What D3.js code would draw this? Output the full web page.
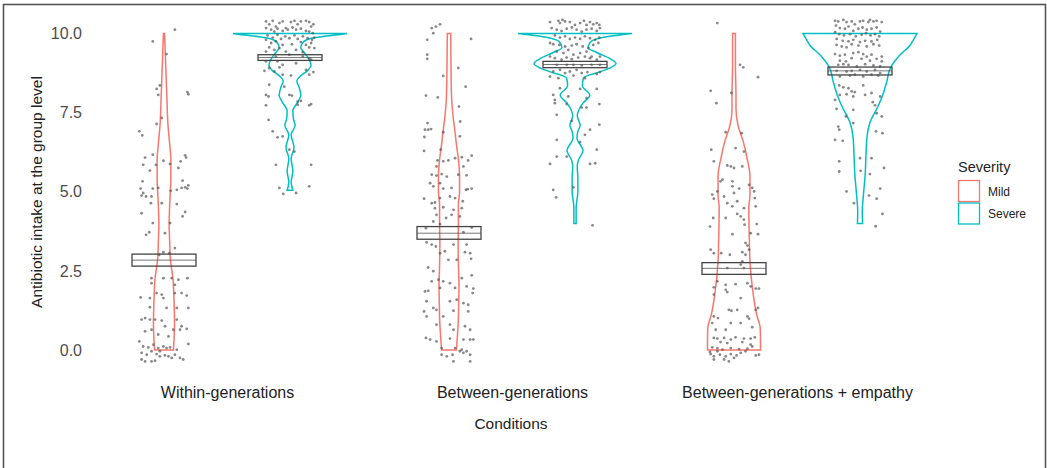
<!DOCTYPE html>
<html>
<head>
<meta charset="utf-8">
<script src="https://cdn.jsdelivr.net/npm/d3@7"></script>
<style>
  body { margin: 0; background: #fff; }
  text { font-family: "Liberation Sans", Arial, sans-serif; }
</style>
</head>
<body>
<svg id="chart" width="1047" height="468"></svg>
<script>
// categories
const conditions = ["Within-generations", "Between-generations", "Between-generations + empathy"];
const severities = ["Mild", "Severe"];
const yTicks = [0, 2.5, 5, 7.5, 10];

// crossbar (mean and interval) per condition x severity: WM, WS, BM, BS, EM, ES
const boxLow  = [2.65, 9.15, 3.50, 8.92, 2.39, 8.69];
const boxMid  = [2.84, 9.24, 3.69, 9.02, 2.58, 8.82];
const boxHigh = [3.03, 9.33, 3.90, 9.12, 2.76, 8.94];

// violin profiles: [value, relative density width]
const violinWM = [[0,0.165],[0.3,0.175],[0.8,0.185],[1.6,0.175],[2.2,0.16],[2.9,0.11],[3.4,0.10],[4.0,0.09],[4.8,0.105],[5.4,0.12],[6.0,0.12],[6.5,0.10],[7.1,0.07],[8.0,0.05],[9.0,0.03],[10,0.01]];
const violinWS = [[5.05,0.05],[5.3,0.02],[5.65,0.05],[6.05,0.02],[6.4,0.07],[6.8,0.02],[7.1,0.09],[7.3,0.06],[7.55,0.05],[7.85,0.14],[8.05,0.19],[8.3,0.16],[8.5,0.12],[8.65,0.18],[8.85,0.32],[9.0,0.37],[9.2,0.33],[9.4,0.25],[9.55,0.19],[9.7,0.22],[9.78,0.27],[9.85,0.38],[9.9,0.55],[9.95,0.80],[10,1.0]];
const violinBM = [[0,0.13],[0.5,0.15],[1.0,0.165],[1.5,0.17],[2.0,0.175],[2.7,0.165],[3.4,0.16],[4.0,0.165],[4.6,0.165],[5.0,0.185],[5.5,0.185],[6.1,0.16],[6.5,0.13],[6.9,0.105],[7.4,0.07],[8.0,0.045],[9.0,0.035],[10,0.03]];
const violinBS = [[4.0,0.02],[4.5,0.02],[5.0,0.05],[5.4,0.05],[5.8,0.04],[6.0,0.06],[6.3,0.14],[6.7,0.035],[6.9,0.05],[7.1,0.09],[7.4,0.04],[7.5,0.05],[7.8,0.14],[8.05,0.26],[8.35,0.13],[8.6,0.15],[8.78,0.42],[8.9,0.6],[9.05,0.72],[9.2,0.62],[9.4,0.38],[9.55,0.23],[9.7,0.26],[9.8,0.33],[9.88,0.5],[9.95,0.78],[10,1.0]];
const violinEM = [[0,0.465],[0.25,0.465],[0.7,0.46],[1.1,0.40],[1.85,0.33],[2.8,0.28],[3.4,0.27],[4.5,0.26],[4.9,0.28],[5.5,0.28],[6.05,0.23],[6.6,0.16],[7.1,0.07],[7.6,0.035],[8.0,0.035],[9.0,0.025],[10,0.025]];
const violinES = [[4.0,0.045],[4.37,0.04],[4.9,0.06],[5.53,0.09],[6.16,0.105],[6.68,0.12],[7.21,0.18],[7.64,0.30],[8.06,0.40],[8.48,0.47],[8.9,0.53],[9.32,0.70],[9.63,0.88],[9.75,0.92],[9.9,0.97],[10,1.0]];

// jittered observations: [horizontal jitter, value]
const ptsWM = [[0.34,10.12],[-0.35,9.75],[0.08,9.35],[-0.23,8.25],[-0.13,8.36],[-0.18,8.06],[0.73,8.15],[0.76,8.08],[-0.07,7.33],[-0.23,7.14],[-0.77,6.91],[-0.68,6.78],[-0.59,6.08],[-0.35,6.17],[0.66,6.15],[0.69,6.08],[-0.65,5.85],[-0.44,5.67],[-0.25,5.85],[-0.02,5.98],[0.19,5.88],[0.52,5.96],[0.45,5.75],[-0.67,5.33],[0.58,5.35],[-0.73,5.1],[-0.65,4.96],[-0.70,4.88],[-0.56,4.85],[-0.39,4.85],[-0.35,5.1],[-0.18,5.12],[0.21,5.03],[0.40,5.06],[0.55,5.12],[0.66,5.14],[0.76,5.2],[0.73,5.1],[-0.41,4.64],[-0.07,4.64],[0.40,4.61],[-0.70,4.32],[0.58,4.22],[0.66,4.36],[-0.35,4.01],[0.19,4.01],[-0.56,3.64],[-0.46,3.72],[0.03,3.69],[0.34,3.22],[-0.02,3.09],[0.17,3.06],[-0.15,3.01],[-0.39,2.27],[-0.02,2.27],[0.24,2.27],[0.45,2.22],[-0.39,2.11],[0.34,2.06],[0.73,2.27],[-0.23,1.8],[-0.07,1.75],[-0.02,1.64],[0.34,1.8],[0.55,1.8],[0.71,1.72],[-0.73,1.66],[-0.44,1.64],[0.08,1.33],[0.40,1.33],[0.76,1.33],[-0.44,1.35],[-0.59,1.01],[-0.70,0.96],[-0.44,0.96],[-0.28,0.96],[-0.07,0.93],[0.03,0.75],[0.40,0.96],[0.55,0.75],[0.50,0.64],[0.71,0.67],[-0.59,0.59],[-0.39,0.64],[0.29,0.64],[-0.18,0.49],[0.14,0.43],[0.76,0.19],[-0.77,0.27],[-0.65,0.11],[-0.49,0.08],[-0.33,0.17],[-0.18,0.06],[-0.02,0.11],[0.08,0.06],[0.19,0.08],[0.40,0.01],[-0.70,-0.09],[-0.54,-0.15],[-0.39,-0.04],[-0.23,-0.13],[-0.13,-0.2],[0.03,-0.17],[0.14,-0.2],[0.34,-0.15],[0.50,-0.25],[0.60,-0.3],[-0.70,-0.3],[-0.59,-0.36],[-0.39,-0.36],[-0.28,-0.34],[-0.13,-0.04],[0.24,-0.25]];
const ptsWS = [[-0.75,10.38],[-0.65,10.29],[-0.54,10.4],[-0.44,10.22],[-0.33,10.33],[-0.23,10.38],[-0.13,10.17],[0.03,10.36],[0.14,10.4],[0.24,10.29],[0.34,10.38],[0.50,10.4],[0.60,10.36],[0.66,10.22],[0.73,10.29],[-0.75,10.17],[-0.59,10.12],[-0.49,10.06],[-0.39,10.15],[-0.23,10.08],[-0.07,10.12],[0.08,10.19],[0.19,10.12],[0.34,10.15],[0.50,10.08],[0.60,10.06],[0.71,10.01],[-0.70,9.94],[-0.54,9.87],[-0.39,9.96],[-0.28,9.83],[-0.15,9.91],[-0.02,9.85],[0.14,9.94],[0.24,9.83],[0.40,9.91],[0.55,9.85],[0.69,9.8],[0.76,9.87],[-0.75,9.8],[-0.59,9.7],[-0.44,9.75],[-0.23,9.64],[0.06,9.66],[0.34,9.73],[0.50,9.64],[0.66,9.7],[-0.65,9.56],[-0.49,9.48],[-0.33,9.54],[-0.13,9.43],[0.19,9.48],[0.40,9.41],[0.60,9.56],[0.76,9.54],[-0.75,9.43],[-0.44,9.27],[-0.02,9.33],[0.40,9.27],[0.60,9.22],[-0.75,9.12],[-0.39,9.12],[-0.23,9.01],[0.19,9.06],[0.66,9.17],[-0.65,8.91],[-0.33,8.93],[-0.80,8.82],[-0.49,8.8],[0.50,8.85],[0.73,8.78],[-0.23,8.7],[0.03,8.67],[0.60,8.7],[-0.65,8.38],[-0.75,8.06],[-0.67,8.01],[-0.18,8.32],[-0.02,8.06],[0.06,8.04],[0.24,7.85],[0.34,7.87],[0.60,7.73],[0.66,7.77],[-0.75,7.73],[0.24,7.75],[-0.67,7.27],[-0.54,6.91],[-0.39,6.72],[-0.23,6.75],[-0.02,6.33],[0.14,6.27],[-0.44,5.85],[0.66,5.85],[-0.33,5.12],[-0.21,4.93],[0.19,4.96],[0.60,5.17]];
const ptsBM = [[-0.54,10.17],[-0.41,10.22],[-0.28,10.29],[-0.49,10.01],[-0.68,9.8],[0.69,9.83],[-0.68,9.33],[-0.68,9.2],[0.29,8.91],[-0.18,8.66],[0.52,8.32],[-0.72,8.04],[-0.35,7.98],[0.31,7.69],[-0.67,7.17],[0.35,7.22],[-0.75,6.96],[-0.65,6.96],[-0.56,6.98],[-0.77,6.73],[-0.18,6.88],[0.34,6.75],[-0.78,6.29],[-0.26,6.33],[-0.36,5.99],[-0.18,5.96],[-0.02,5.99],[0.19,6.06],[0.40,6.09],[0.60,5.99],[0.71,6.14],[-0.39,5.8],[0.45,5.8],[-0.54,5.54],[-0.39,5.51],[-0.23,5.56],[-0.07,5.48],[0.29,5.54],[0.55,5.52],[-0.59,5.27],[-0.49,5.17],[-0.28,5.27],[-0.18,5.1],[0.08,5.12],[0.53,5.06],[0.58,5.08],[0.71,5.1],[-0.78,4.78],[-0.54,4.64],[-0.44,4.66],[-0.28,4.8],[0.03,4.85],[0.19,4.8],[0.43,4.7],[-0.44,4.48],[-0.18,4.51],[0.14,4.43],[0.40,4.48],[-0.39,4.27],[-0.09,4.17],[0.08,4.27],[0.34,4.22],[-0.49,4.06],[-0.28,3.98],[-0.72,3.85],[0.71,3.87],[0.45,3.72],[-0.70,3.4],[-0.54,3.33],[-0.41,3.27],[0.14,3.33],[0.55,3.33],[-0.28,3.06],[-0.13,3.12],[0.66,3.06],[-0.02,2.85],[0.24,2.85],[0.50,3.09],[0.69,2.88],[-0.65,2.61],[-0.49,2.49],[-0.33,2.22],[-0.18,2.17],[0.03,2.11],[0.40,2.27],[0.71,2.36],[-0.75,1.85],[-0.65,1.87],[-0.54,2.17],[-0.28,1.96],[0.19,1.96],[0.55,2.01],[0.76,1.94],[0.74,1.8],[-0.70,1.54],[0.03,1.54],[0.24,1.59],[0.45,1.48],[0.60,1.43],[-0.49,1.33],[-0.39,1.27],[0.14,1.24],[-0.78,1.22],[-0.18,1.06],[0.60,1.22],[-0.70,1.06],[-0.39,0.8],[0.03,0.8],[0.50,0.75],[0.14,0.64],[0.66,0.64],[-0.72,0.38],[-0.59,0.33],[-0.39,0.27],[0.03,0.36],[0.45,0.33],[0.66,0.33],[0.76,0.33],[0.19,0.06],[0.34,-0.04],[0.45,-0.09],[0.55,-0.04],[0.66,-0.15],[-0.23,-0.15],[-0.07,-0.2],[0.11,-0.15],[0.14,-0.36],[0.66,-0.36],[0.40,0.01],[-0.23,0.06]];
const ptsBS = [[-0.78,10.36],[-0.52,10.4],[-0.47,10.33],[-0.39,10.43],[-0.31,10.38],[-0.16,10.36],[0,10.27],[0.16,10.33],[0.28,10.4],[0.36,10.27],[0.47,10.36],[0.57,10.29],[0.68,10.33],[0.76,10.27],[-0.73,10.17],[-0.57,10.12],[-0.42,10.08],[-0.26,10.15],[-0.10,10.19],[0.05,10.12],[0.21,10.06],[0.36,10.12],[0.52,10.15],[0.68,10.08],[0.78,10.17],[-0.63,9.94],[-0.47,9.87],[-0.31,9.91],[-0.16,9.83],[0,9.87],[0.16,9.83],[0.31,9.91],[0.47,9.85],[0.63,9.8],[0.76,9.87],[-0.78,9.7],[-0.68,9.66],[-0.49,9.64],[-0.31,9.59],[-0.10,9.62],[0.05,9.66],[0.24,9.59],[0.42,9.54],[0.57,9.64],[0.73,9.7],[-0.57,9.43],[-0.36,9.38],[-0.21,9.48],[-0.05,9.33],[0.16,9.38],[0.36,9.43],[0.52,9.27],[-0.78,9.27],[-0.63,9.22],[-0.42,9.17],[-0.26,9.24],[-0.10,9.19],[0.10,9.24],[0.31,9.27],[0.47,9.22],[0.68,9.17],[0.78,9.27],[-0.57,9.01],[-0.26,9.01],[-0.05,9.01],[0.21,8.99],[0.52,9.01],[0.78,9.01],[-0.68,8.8],[-0.47,8.85],[-0.31,8.75],[-0.16,8.8],[0.05,8.85],[0.21,8.75],[0.39,8.78],[0.68,8.72],[0.78,8.78],[-0.78,8.64],[-0.52,8.59],[0.31,8.59],[-0.05,8.67],[-0.47,8.27],[0.16,8.25],[0.68,8.25],[-0.68,8.06],[-0.63,7.9],[-0.21,8.01],[0.36,7.96],[-0.63,7.8],[-0.26,7.77],[0.21,7.66],[0.36,7.66],[0.76,7.77],[-0.57,7.43],[-0.10,7.24],[0.76,7.12],[-0.57,6.64],[0.31,6.8],[0.47,6.96],[0.16,6.57],[-0.57,6.11],[-0.26,6.11],[-0.78,5.88],[0.68,6.33],[0.47,5.88],[0.63,5.9],[-0.05,5.14],[-0.68,5.06],[-0.59,4.82],[0.55,3.94]];
const ptsEM = [[-0.52,10.33],[0.19,9.01],[0.29,8.93],[0.75,8.62],[-0.73,8.19],[-0.08,8.12],[-0.55,7.8],[-0.26,6.88],[0.24,6.85],[-0.71,6.33],[0.05,6.38],[0.31,6.27],[-0.63,5.96],[-0.21,5.83],[-0.10,5.8],[0,5.75],[0.26,5.8],[-0.42,5.33],[-0.36,5.38],[-0.05,5.33],[-0.05,5.17],[0.16,5.1],[0.47,5.22],[0.57,5.12],[-0.52,5.01],[-0.68,4.91],[-0.31,4.85],[0,4.96],[0.63,5.01],[-0.63,4.78],[0.65,4.8],[-0.21,4.64],[0.10,4.7],[-0.05,4.54],[0.31,4.48],[0.68,4.54],[0.10,4.3],[0.21,4.22],[-0.65,4.17],[-0.26,4.17],[0.31,4.12],[-0.75,3.9],[0.33,3.96],[0.71,3.98],[-0.05,3.66],[0.52,3.69],[0.75,3.66],[0.36,3.38],[0.42,3.3],[-0.73,3.17],[-0.63,3.06],[-0.40,3.06],[-0.13,3.01],[0.26,3.09],[0.36,3.01],[0.47,3.17],[0.26,2.8],[-0.21,2.59],[0.31,2.59],[0.21,2.7],[-0.52,2.17],[-0.26,2.06],[0.05,2.08],[0.42,2.11],[0.52,2.01],[0.68,1.94],[0.78,1.94],[-0.63,1.98],[-0.26,1.9],[-0.21,1.83],[0.21,1.64],[-0.63,1.75],[-0.16,1.27],[-0.08,1.24],[0.10,1.27],[0.68,1.27],[0.75,1.33],[-0.63,1.06],[-0.50,1.01],[0.42,1.06],[0.47,0.99],[-0.10,0.85],[0.21,0.85],[-0.68,0.85],[-0.57,0.64],[-0.26,0.64],[0.57,0.72],[-0.63,0.38],[-0.52,0.36],[-0.31,0.38],[-0.10,0.33],[0.05,0.4],[0.31,0.36],[0.52,0.36],[0.65,0.4],[-0.42,0.25],[-0.21,0.22],[0.26,0.25],[0.57,0.11],[0.52,0.17],[-0.68,0.08],[-0.52,0.06],[-0.36,0.01],[-0.10,0.06],[0.16,0.03],[0.42,0.04],[-0.73,-0.13],[-0.63,-0.2],[-0.44,-0.15],[-0.26,-0.2],[-0.10,-0.13],[0.08,-0.17],[0.21,-0.09],[0.36,-0.04],[0.68,-0.17],[0.78,-0.15],[-0.63,-0.3],[-0.31,-0.3],[-0.16,-0.36],[0,-0.25],[-0.52,-0.04],[-0.75,-0.06]];
const ptsES = [[-0.78,10.4],[-0.68,10.38],[-0.52,10.43],[-0.42,10.36],[-0.26,10.38],[-0.16,10.29],[0,10.38],[0.10,10.4],[0.26,10.36],[0.31,10.43],[0.42,10.38],[0.52,10.4],[0.68,10.36],[-0.75,10.25],[-0.63,10.17],[-0.47,10.15],[-0.36,10.22],[-0.21,10.08],[-0.05,10.15],[0.08,10.19],[0.21,10.12],[0.36,10.15],[0.52,10.19],[0.63,10.06],[-0.78,10.04],[-0.65,9.98],[-0.50,9.94],[-0.31,9.98],[-0.13,9.91],[0.05,9.96],[0.19,10.01],[0.33,9.94],[0.47,9.98],[0.60,9.91],[-0.73,9.83],[-0.54,9.77],[-0.36,9.75],[-0.21,9.8],[0,9.73],[0.16,9.77],[0.36,9.75],[0.54,9.8],[-0.73,9.64],[-0.57,9.59],[-0.42,9.56],[-0.26,9.66],[-0.05,9.62],[0.21,9.59],[0.42,9.66],[0.60,9.62],[-0.78,9.35],[-0.63,9.3],[-0.47,9.33],[-0.21,9.38],[-0.05,9.41],[0.10,9.35],[0.21,9.27],[0.36,9.33],[0.68,9.27],[-0.63,9.14],[-0.44,9.12],[-0.26,9.22],[0.05,9.2],[0.31,9.14],[0.52,9.2],[0.68,9.12],[-0.68,9.01],[-0.52,9.03],[-0.36,9.01],[-0.10,8.96],[0.16,9.03],[0.42,8.99],[0.63,8.96],[-0.73,8.82],[-0.42,8.8],[-0.26,8.82],[0,8.85],[0.21,8.8],[0.47,8.85],[0.63,8.75],[-0.63,8.64],[-0.31,8.67],[-0.16,8.7],[0.10,8.64],[0.36,8.7],[0.57,8.67],[-0.65,8.36],[-0.52,8.3],[-0.36,8.27],[-0.26,8.17],[-0.16,8.15],[0.10,8.36],[-0.63,8.06],[-0.42,8.08],[-0.21,8.01],[0.16,8.06],[0.36,8.12],[0.63,8.01],[-0.78,7.9],[0.40,7.83],[0.47,7.73],[-0.73,7.62],[-0.21,7.59],[-0.44,7.38],[0.52,7.48],[0.68,7.38],[-0.21,7.17],[-0.68,7.06],[-0.65,6.96],[0.50,6.91],[0.70,6.85],[-0.78,6.64],[-0.54,6.61],[0,6.06],[0.36,6.06],[-0.65,5.96],[-0.65,5.64],[0.02,5.66],[0.75,5.75],[0.31,5.56],[-0.42,5.01],[0.63,5.1],[0.52,4.78],[0.28,4.88],[-0.19,4.64],[0.70,4.3],[0.49,3.91]];

const violins = [violinWM, violinWS, violinBM, violinBS, violinEM, violinES];
const points  = [ptsWM, ptsWS, ptsBM, ptsBS, ptsEM, ptsES];

const groups = [];
conditions.forEach((c, i) => {
  severities.forEach((s, k) => {
    const g = i * 2 + k;
    groups.push({ condition: c, severity: s, violin: violins[g], pts: points[g],
                  low: boxLow[g], mid: boxMid[g], high: boxHigh[g] });
  });
});

const svg = d3.select('#chart');

// outer frame
svg.append('rect')
  .attr('x', 3.5).attr('y', 4.5)
  .attr('width', 1042).attr('height', 470)
  .attr('fill', 'none').attr('stroke', '#555').attr('stroke-width', 1.6);

// scales
const y = d3.scaleLinear().domain([0, 10]).range([350, 33.5]);
const x = d3.scalePoint().domain(conditions).range([227, 797]);
const dodge = d3.scalePoint().domain(severities).range([-63, 63]);
const widthScale = d3.scaleLinear().domain([0, 1]).range([0, 57]);
const jitter = d3.scaleLinear().domain([-1, 1]).range([-32, 32]);
const color = d3.scaleOrdinal().domain(severities).range(['#F8766D', '#00BFC4']);
const boxHalf = 32;

// y axis
const yAxis = svg.append('g')
  .attr('transform', 'translate(86,0)')
  .call(d3.axisLeft(y).tickValues(yTicks).tickFormat(d3.format('.1f')).tickSize(0).tickPadding(4));
yAxis.select('.domain').remove();
yAxis.selectAll('text').attr('font-size', 16).attr('fill', '#4d4d4d')
  .style('font-family', '"Liberation Sans", Arial, sans-serif');

// x axis
const xAxis = svg.append('g')
  .attr('transform', 'translate(0,384)')
  .call(d3.axisBottom(x).tickSize(0).tickPadding(3));
xAxis.select('.domain').remove();
xAxis.selectAll('text').attr('font-size', 16).attr('fill', '#222')
  .style('font-family', '"Liberation Sans", Arial, sans-serif');

// axis titles
svg.append('text')
  .attr('transform', 'translate(42,192) rotate(-90)')
  .attr('text-anchor', 'middle').attr('font-size', 15.5).attr('fill', '#222')
  .text('Antibiotic intake at the group level');

svg.append('text')
  .attr('x', 511).attr('y', 429)
  .attr('text-anchor', 'middle').attr('font-size', 15.5).attr('fill', '#222')
  .text('Conditions');

// violins
groups.forEach(gr => {
  const cx = x(gr.condition) + dodge(gr.severity);
  const area = d3.area()
    .curve(d3.curveMonotoneY)
    .y(d => y(d[0]))
    .x0(d => cx - widthScale(d[1]))
    .x1(d => cx + widthScale(d[1]));
  svg.append('path')
    .datum(gr.violin)
    .attr('d', area)
    .attr('fill', 'none')
    .attr('stroke', color(gr.severity))
    .attr('stroke-width', 1.5);
});

// jittered points
groups.forEach(gr => {
  const cx = x(gr.condition) + dodge(gr.severity);
  svg.append('g').selectAll('circle')
    .data(gr.pts)
    .join('circle')
    .attr('cx', d => cx + jitter(d[0]))
    .attr('cy', d => y(d[1]))
    .attr('r', 1.4)
    .attr('fill', '#555')
    .attr('opacity', 0.7);
});

// crossbars
groups.forEach(gr => {
  const cx = x(gr.condition) + dodge(gr.severity);
  const g = svg.append('g');
  g.append('rect')
    .attr('x', cx - boxHalf).attr('y', y(gr.high))
    .attr('width', boxHalf * 2).attr('height', y(gr.low) - y(gr.high))
    .attr('fill', 'none').attr('stroke', '#444').attr('stroke-width', 1.3);
  g.append('line')
    .attr('x1', cx - boxHalf).attr('x2', cx + boxHalf)
    .attr('y1', y(gr.mid)).attr('y2', y(gr.mid))
    .attr('stroke', '#555').attr('stroke-width', 0.8);
});

// legend
const legend = svg.append('g').attr('transform', 'translate(958,0)');
legend.append('text')
  .attr('x', 0).attr('y', 172).attr('font-size', 14.5).attr('fill', '#222')
  .text('Severity');
severities.forEach((s, i) => {
  legend.append('rect')
    .attr('x', 0.5).attr('y', 180.5 + i * 22.5)
    .attr('width', 21).attr('height', 21)
    .attr('fill', '#fff').attr('stroke', color(s)).attr('stroke-width', 1.3);
  legend.append('text')
    .attr('x', 30).attr('y', 195.5 + i * 22.5)
    .attr('font-size', 12).attr('fill', '#222')
    .text(s);
});
</script>
</body>
</html>
